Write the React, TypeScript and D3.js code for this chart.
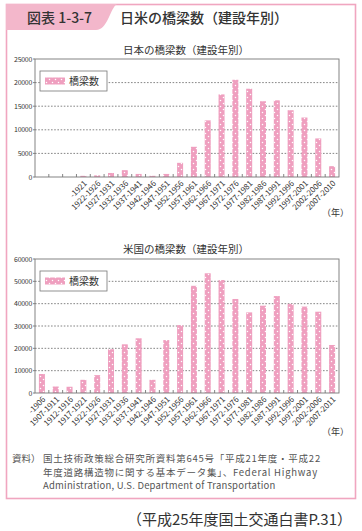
import React from "react";
import * as d3 from "d3";

const categoriesJP = ["", "", "", "-1921", "1922-1926", "1927-1931", "1932-1936", "1937-1941", "1942-1946", "1947-1951", "1952-1956", "1957-1961", "1962-1966", "1967-1971", "1972-1976", "1977-1981", "1982-1986", "1987-1991", "1992-1996", "1997-2001", "2002-2006", "2007-2010"];
const valuesJP = [null, null, null, 250, 350, 850, 1450, 650, 250, 650, 3000, 6400, 12000, 17500, 20600, 18700, 16050, 16250, 14150, 12600, 8170, 2300];
const ticksJP = [0, 5000, 10000, 15000, 20000, 25000];

const categoriesUS = ["-1906", "1907-1911", "1912-1916", "1917-1921", "1922-1926", "1927-1931", "1932-1936", "1937-1941", "1942-1946", "1947-1951", "1952-1956", "1957-1961", "1962-1966", "1967-1971", "1972-1976", "1977-1981", "1982-1986", "1987-1991", "1992-1996", "1997-2001", "2002-2006", "2007-2011"];
const valuesUS = [8500, 2900, 2800, 5900, 8000, 19600, 21800, 24500, 5900, 23700, 30400, 48000, 53600, 50600, 42100, 36100, 39100, 43400, 39900, 38700, 36400, 21500];
const ticksUS = [0, 10000, 20000, 30000, 40000, 50000, 60000];

const FONT = "'Noto Sans CJK JP', 'Noto Sans', sans-serif";
const PINK = "#ef9fbf";
const FRAME = "#f0a6c0";

type ChartProps = {
  title: string;
  titleY: number;
  top: number;
  bottom: number;
  cats: string[];
  vals: (number | null)[];
  ticks: number[];
  patId: string;
};

function BarChart({ title, titleY, top, bottom, cats, vals, ticks, patId }: ChartProps) {
  const left = 35;
  const right = 339;
  const x = d3.scaleBand<number>().domain(cats.map((_, i) => i)).range([left, right]).paddingInner(0).paddingOuter(0);
  const maxV = ticks[ticks.length - 1];
  const y = d3.scaleLinear().domain([0, maxV]).range([bottom, top]);
  const bw = 6;
  return (
    <g>
      <text x={186} y={titleY} textAnchor="middle" fontSize={10.5} fill="#333" fontFamily={FONT}>{title}</text>
      <rect x={left} y={top} width={right - left} height={bottom - top} fill="#fff" stroke="none" />
      {ticks.slice(1, -1).map((t) => (
        <line key={t} x1={left} x2={right} y1={y(t)} y2={y(t)} stroke="#666" strokeWidth={0.8} strokeDasharray="1.6,1.6" />
      ))}
      {ticks.map((t) => (
        <g key={"yt" + t}>
          <line x1={left - 2} x2={left} y1={y(t)} y2={y(t)} stroke="#666" strokeWidth={0.8} />
          <text x={left - 3} y={y(t) + 2.5} textAnchor="end" fontSize={7} fill="#333" fontFamily={FONT} letterSpacing={-0.3}>{t}</text>
        </g>
      ))}
      {cats.map((_, i) => i > 0 ? (
        <line key={"xt" + i} x1={x(i)!} x2={x(i)!} y1={bottom} y2={bottom - 3} stroke="#666" strokeWidth={0.8} />
      ) : null)}
      {vals.map((v, i) => v == null ? null : (
        <rect key={"b" + i} x={x(i)! + x.bandwidth() / 2 - bw / 2} y={y(v)} width={bw} height={bottom - y(v)} fill={`url(#${patId})`} />
      ))}
      <rect x={left} y={top} width={right - left} height={bottom - top} fill="none" stroke="#777" strokeWidth={0.9} />
      <rect x={40} y={top + 12} width={67} height={20} fill="#fff" stroke="#777" strokeWidth={0.8} />
      <rect x={45} y={top + 18.5} width={20} height={7} fill={`url(#${patId})`} />
      <text x={69} y={top + 26} fontSize={10} fill="#333" fontFamily={FONT}>橋梁数</text>
      {cats.map((c, i) => c ? (
        <text key={"xl" + i} transform={`translate(${x(i)! + x.bandwidth() / 2 + 4},${bottom + 7}) rotate(-45)`} textAnchor="end" fontSize={8} fill="#333" fontFamily={FONT} letterSpacing={-0.1}>{c}</text>
      ) : null)}
    </g>
  );
}

export default function App() {
  return (
    <svg width={362} height={531} style={{ position: "absolute", left: 0, top: 0, background: "#fff" }} fontFamily={FONT}>
      <defs>
        {["patA", "patB"].map((id) => (
          <pattern key={id} id={id} patternUnits="userSpaceOnUse" width={6} height={6}>
            <rect width={6} height={6} fill={PINK} />
            <circle cx={1.5} cy={1.5} r={0.75} fill="#fff" />
            <circle cx={4.5} cy={4.5} r={0.75} fill="#fff" />
          </pattern>
        ))}
      </defs>
      <rect x={0} y={0} width={362} height={531} fill="#fff" />
      <rect x={6.5} y={4.5} width={349} height={494} fill="none" stroke={FRAME} strokeWidth={1.6} />
      <path d="M6,4 H117 C110,8 108,30 96,30 H6 Z" fill="#f3b7cb" />
      <text x={27} y={23} fontSize={14} fill="#333" fontFamily={FONT} fontWeight={500}>図表 1-3-7</text>
      <text x={120} y={23} fontSize={14} fill="#333" fontFamily={FONT} fontWeight={500}>日米の橋梁数（建設年別）</text>

      <BarChart title="日本の橋梁数（建設年別）" titleY={54} top={59} bottom={177} cats={categoriesJP} vals={valuesJP} ticks={ticksJP} patId="patA" />
      <text x={322} y={216} fontSize={9} fill="#333" fontFamily={FONT}>（年）</text>

      <BarChart title="米国の橋梁数（建設年別）" titleY={253} top={259} bottom={393} cats={categoriesUS} vals={valuesUS} ticks={ticksUS} patId="patB" />
      <text x={322} y={435} fontSize={9} fill="#333" fontFamily={FONT}>（年）</text>

      <g fontSize={9.5} fill="#555" fontFamily={FONT}>
        <text x={12} y={462}>資料）</text>
        <text x={43} y={462} letterSpacing={0.75}>国土技術政策総合研究所資料第645号「平成21年度・平成22</text>
        <text x={43} y={475.5} letterSpacing={0.75}>年度道路構造物に関する基本データ集」、Federal Highway</text>
        <text x={43} y={489} letterSpacing={0.2}>Administration, U.S. Department of Transportation</text>
      </g>
      <text x={352} y={525} textAnchor="end" fontSize={15} fill="#333" fontFamily={FONT}>（平成25年度国土交通白書P.31）</text>
    </svg>
  );
}
